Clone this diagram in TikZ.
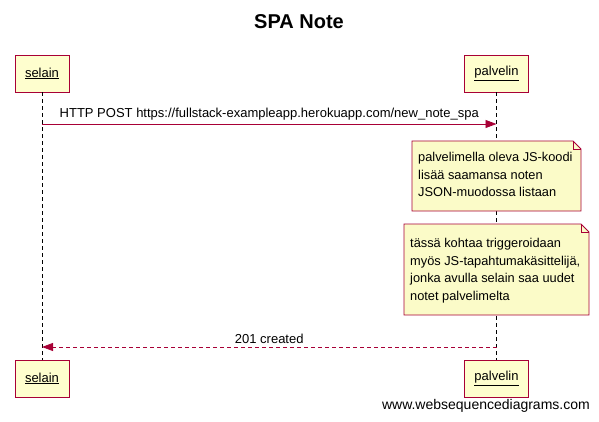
\documentclass[tikz,border=0pt]{standalone}
\usepackage{fontspec}
\setmainfont{Liberation Sans}
\usetikzlibrary{arrows.meta}
\definecolor{wsdred}{HTML}{A80036}
\definecolor{wsdfill}{HTML}{FEFECE}
\definecolor{notefill}{HTML}{FBFBC8}
\begin{document}
\begin{tikzpicture}[x=1pt,y=-1pt,
			actor/.style={
				rectangle,
				draw=wsdred,
				fill=wsdfill,
				line width=0.9pt,
				minimum width=54pt,
				minimum height=37pt,
				inner sep=0pt,
				font=\fontsize{13}{15}\selectfont,
			},
			lifeline/.style={
				draw,
				dashed,
				dash pattern=on 4pt off 3pt,
				line width=0.7pt,
			},
			msg/.style={
				draw=wsdred,
				line width=0.8pt,
				-{Triangle[length=11pt,width=8pt]},
			},
			msglabel/.style={
				font=\fontsize{13}{15}\selectfont,
				inner sep=1pt,
			},
			notetext/.style={
				align=left,
				anchor=north west,
				inner sep=0pt,
				font=\fontsize{12.8}{17.7}\selectfont,
			},
			notebox/.style={
				draw=wsdred,
				fill=notefill,
				line width=0.8pt,
			}]
		\useasboundingbox (0,0) rectangle (599,422);
		\node[font=\bfseries\fontsize{20}{24}\selectfont] (title) at (299,22) {SPA Note};
		% participants
		\node[actor] (selaintop) at (42,73.5) {\underline{selain}};
		\node[actor, minimum width=64pt] (palvelintop) at (496.5,73.5) {\underline{palvelin}};
		\node[actor] (selainbot) at (42,378.5) {\underline{selain}};
		\node[actor, minimum width=64pt] (palvelinbot) at (496.5,378.5) {\underline{palvelin}};
		\path[lifeline] (selaintop) -- (selainbot);
		\path[lifeline] (palvelintop) -- (palvelinbot);
		% request
		\coordinate (reqfrom) at (42,124);
		\coordinate (reqto) at (496.5,124);
		\path[msg] (reqfrom) -- node[msglabel, above=2pt] {HTTP POST https://fullstack-exampleapp.herokuapp.com/new\_note\_spa} (reqto);
		% notes
		\path[notebox] (412,141) -- (573,141) -- (581,149) -- (581,211) -- (412,211) -- cycle;
		\path[draw=wsdred, line width=0.8pt] (573,141) -- (573,149) -- (581,149);
		\node[notetext] (note1) at (418,152) {palvelimella oleva JS-koodi\\lisää saamansa noten\\JSON-muodossa listaan};
		\path[notebox] (404,224) -- (581,224) -- (589,232) -- (589,315) -- (404,315) -- cycle;
		\path[draw=wsdred, line width=0.8pt] (581,224) -- (581,232) -- (589,232);
		\node[notetext] (note2) at (410,238) {tässä kohtaa triggeroidaan\\myös JS-tapahtumakäsittelijä,\\jonka avulla selain saa uudet\\notet palvelimelta};
		% response
		\coordinate (resfrom) at (496.5,347);
		\coordinate (resto) at (42,347);
		\path[msg, dashed, dash pattern=on 4pt off 3pt] (resfrom) -- node[msglabel, above=2pt] {201 created} (resto);
		\node[anchor=east, font=\fontsize{14}{16}\selectfont, inner sep=0pt] (footer) at (590,406) {www.websequencediagrams.com};
	\end{tikzpicture}
\end{document}
